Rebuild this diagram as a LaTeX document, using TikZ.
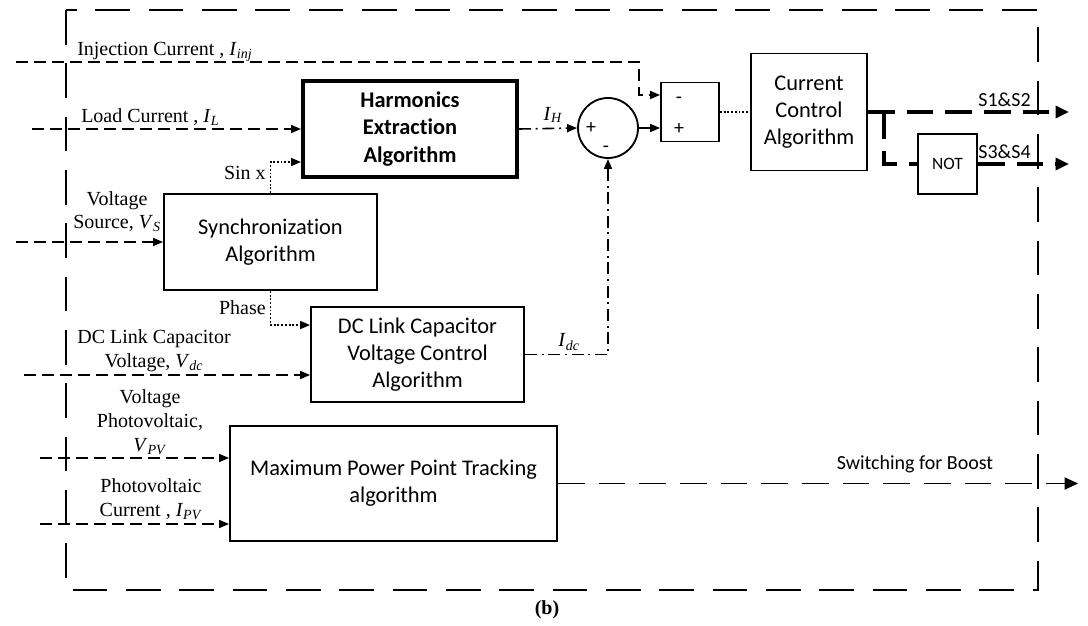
\documentclass[tikz,border=0pt]{standalone}
\usepackage{fontspec}
\setmainfont{Liberation Serif}
\setsansfont{Carlito}[Ligatures=NoCommon]
\usetikzlibrary{arrows.meta}
\newcommand\varsub[2]{\textit{#1}\textsubscript{\textit{#2}}}

\begin{document}
\begin{tikzpicture}[x=0.75pt,y=-0.75pt,
  blk/.style={draw, line width=1.4pt, font=\sffamily\fontsize{16.8}{20.3}\selectfont,
    align=center, inner sep=0pt},
  lbl/.style={font=\fontsize{15}{17.8}\selectfont, align=center, inner sep=0pt},
  small/.style={font=\sffamily\fontsize{13}{15}\selectfont, inner sep=0pt},
  sign/.style={font=\sffamily\fontsize{15}{17}\selectfont, inner sep=0pt},
  sig/.style={line width=1.2pt, dash pattern=on 9pt off 4.5pt},
  dots/.style={line width=1.2pt, dash pattern=on 1.4pt off 1.4pt},
  dashdot/.style={line width=1.2pt, dash pattern=on 9pt off 3.5pt on 1.5pt off 3.5pt},
  gate/.style={line width=2.4pt, dash pattern=on 20pt off 9pt},
  boost/.style={line width=1.4pt, dash pattern=on 20pt off 10.5pt},
  frame/.style={line width=2.2pt, dash pattern=on 26pt off 14pt},
  tip/.style={-{Triangle[length=7.5pt,width=6pt]}},
  bigtip/.style={-{Triangle[length=10pt,width=9pt]}},
]
% canvas
\fill[white] (0,0) rectangle (1088,625);
\useasboundingbox (0,0) rectangle (1088,625);

% processing blocks
\node[blk, line width=3pt, font=\sffamily\bfseries\fontsize{16.8}{20.3}\selectfont,
  minimum width=160.5pt, minimum height=72pt] (hea) at (410,129)
  {Harmonics\\Extraction\\Algorithm};
\node[blk, minimum width=159.75pt, minimum height=72pt] (sync) at (270.5,242)
  {Synchronization\\Algorithm};
\node[blk, minimum width=159.75pt, minimum height=71.25pt] (dcl) at (417.5,354.5)
  {DC Link Capacitor\\Voltage Control\\Algorithm};
\node[blk, minimum width=245.25pt, minimum height=86.25pt] (mppt) at (393.5,483.5)
  {Maximum Power Point Tracking\\algorithm};
\node[draw, circle, line width=1.4pt, minimum size=45pt, inner sep=0pt] (sum) at (608,128) {};
\node[draw, line width=1.4pt, minimum width=43.5pt, minimum height=44.25pt, inner sep=0pt]
  (diff) at (690,112) {};
\node[blk, minimum width=87pt, minimum height=87.75pt] (cca) at (809,112)
  {Current\\Control\\Algorithm};
\node[blk, small, minimum width=44.25pt, minimum height=45pt] (notb) at (947.5,164) {NOT};

% signs
\node[sign] (sp) at (591,128) {+};
\node[sign] (sm) at (606,149) {-};
\node[sign] (dm) at (679,100) {-};
\node[sign] (dp) at (679,129) {+};

% free ends of the input and output lines
\coordinate (injin) at (16,62);
\coordinate (loadin) at (32,129);
\coordinate (vsin) at (16,242);
\coordinate (vdcin) at (24,375);
\coordinate (vpvin) at (40,458);
\coordinate (ipvin) at (40,524);
\coordinate (s12) at (1069,112);
\coordinate (s34) at (1069,164);
\coordinate (br) at (884,112);
\coordinate (swb) at (1078,483.5);

% inputs
\draw[sig, tip] (injin) -- (injin -| sum.east) |- ([yshift=12.75pt]diff.west);
\draw[sig, tip] (loadin) -- (loadin -| hea.west);
\draw[sig, tip] (vsin) -- (vsin -| sync.west);
\draw[sig, tip] (vdcin) -- (vdcin -| dcl.west);
\draw[sig, tip] (vpvin) -- (vpvin -| mppt.west);
\draw[sig, tip] (ipvin) -- (ipvin -| mppt.west);

% internal signals
\draw[dots, tip] (sync.north) |- ([yshift=-24.75pt]hea.west);
\draw[dots, tip] (sync.south) |- ([yshift=22.1pt]dcl.west);
\draw[dashdot, tip] (hea.east) -- (sum.west);
\draw[dashdot, tip] (dcl.east) -| (sum.south);
\draw[line width=1.2pt, tip] (sum.east) -- (sum.east -| diff.west);
\draw[dots] (diff.east) -- (diff.east -| cca.west);

% gate outputs
\draw[gate, bigtip] (cca.east) -- (s12);
\draw[gate] (br) |- (notb.west);
\draw[gate, bigtip] (notb.east) -- (s34);
\draw[boost, bigtip] (mppt.east) -- (swb);

% enclosure
\draw[frame] (66,10) rectangle (1038,590);

% labels
\node[lbl, anchor=west] (linj) at (77,52) {Injection Current , \varsub{I}{inj}};
\node[lbl, anchor=west] (lload) at (81,117) {Load Current , \varsub{I}{L}};
\node[lbl] (lvs) at (117,211.5) {Voltage\\Source, \varsub{V}{S}};
\node[lbl, anchor=east] (lsin) at (266,173) {Sin x};
\node[lbl, anchor=east] (lph) at (266,308) {Phase};
\node[lbl] (lvdc) at (154,351) {DC Link Capacitor\\Voltage, \varsub{V}{dc}};
\node[lbl] (lvpv) at (150,422) {Voltage\\Photovoltaic,\\\varsub{V}{PV}};
\node[lbl] (lipv) at (151,499) {Photovoltaic\\Current , \varsub{I}{PV}};
\node[lbl] (lih) at (553,115) {\varsub{I}{H}};
\node[lbl] (lidc) at (569,342) {\varsub{I}{dc}};
\node[lbl, font=\sffamily\fontsize{15}{17}\selectfont] (ls12) at (1004.5,100) {S1\&S2};
\node[lbl, font=\sffamily\fontsize{15}{17}\selectfont] (ls34) at (1004.5,152) {S3\&S4};
\node[lbl, font=\sffamily\fontsize{15}{17}\selectfont] (lswb) at (915,464) {Switching for Boost};
\node[lbl, font=\bfseries\fontsize{15}{17}\selectfont] (cap) at (547,610) {(b)};
\end{tikzpicture}
\end{document}
